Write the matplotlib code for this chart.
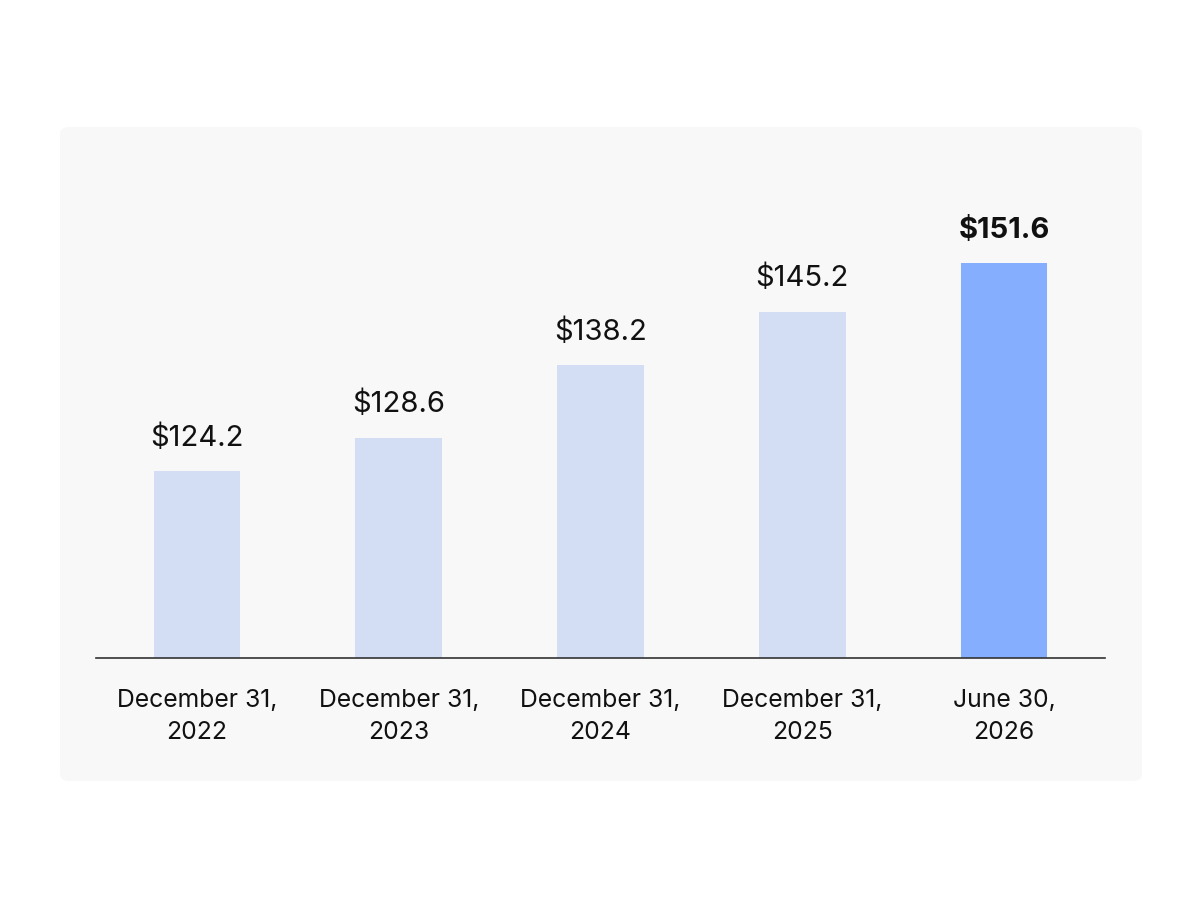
import matplotlib
matplotlib.use('Agg')
import matplotlib.pyplot as plt
from matplotlib.patches import FancyBboxPatch

# data
dates = ["December 31,\n2022", "December 31,\n2023", "December 31,\n2024",
         "December 31,\n2025", "June 30,\n2026"]
values = [124.2, 128.6, 138.2, 145.2, 151.6]
colors = ["#D3DEF5", "#D3DEF5", "#D3DEF5", "#D3DEF5", "#86AEFF"]

plt.rcParams['font.family'] = ['Inter', 'DejaVu Sans']

fig = plt.figure(figsize=(12, 9), dpi=100)
fig.patch.set_facecolor("white")

# light grey panel behind the chart
panel = FancyBboxPatch((60 / 1200, 1 - 781 / 900), 1082 / 1200, 654 / 900,
                       boxstyle="round,pad=0,rounding_size=0.008",
                       transform=fig.transFigure, facecolor="#F8F8F8",
                       edgecolor="none", zorder=-10)
fig.patches.append(panel)

ax = fig.add_axes([96 / 1200, 1 - 658 / 900, 1009 / 1200, 498 / 900])
ax.set_facecolor("none")
ax.set_zorder(5)

x = range(len(values))
ax.bar(x, values, width=0.43, color=colors, zorder=2)

ax.set_xlim(-0.5, 4.5)
ax.set_ylim(99.6, 165.2)

for i, v in enumerate(values):
    weight = "bold" if i == len(values) - 1 else "normal"
    ax.annotate("$%.1f" % v, (i, v), xytext=(0, 14), textcoords="offset points",
                ha="center", va="bottom", fontsize=21, fontweight=weight,
                color="#111111")

ax.set_xticks(list(x))
ax.set_xticklabels(dates, fontsize=17.8, color="#111111", linespacing=1.5)
ax.tick_params(axis="x", length=0, pad=22)
ax.set_yticks([])

for s in ["top", "right", "left"]:
    ax.spines[s].set_visible(False)
ax.spines["bottom"].set_color("#333333")
ax.spines["bottom"].set_linewidth(1.2)

fig.savefig("out.png", dpi=100)
